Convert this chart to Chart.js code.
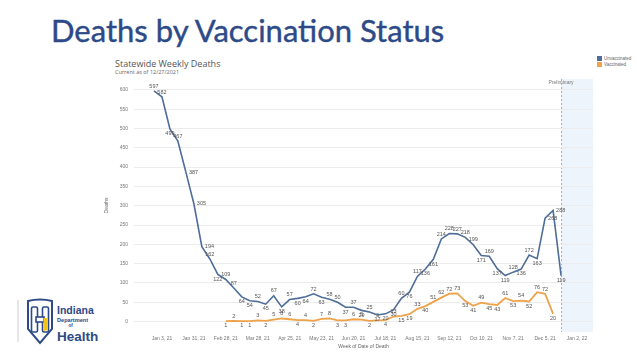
<!DOCTYPE html>
<html lang="en">
<head>
<meta charset="utf-8">
<title>Deaths by Vaccination Status</title>
<script src="https://cdn.jsdelivr.net/npm/chart.js@4.4.0/dist/chart.umd.min.js"></script>
<style>
    body { margin: 0; width: 637px; height: 354px; background: #fff; position: relative; overflow: hidden; }
    #chart { position: absolute; left: 0; top: 0; }
    .txt { position: absolute; white-space: nowrap; }
    #title { left: 51px; top: 11px; font: 31px Lato, "Open Sans", sans-serif; color: #2d4a88; -webkit-text-stroke: 0.4px #2d4a88; }
    #sub { left: 115px; top: 57px; font: 9px "Open Sans", sans-serif; color: #555; }
    #asof { left: 115px; top: 68px; font: 5.5px "Open Sans", sans-serif; color: #666; }
    .leg { position: absolute; left: 597px; font: 4.5px "Liberation Sans", sans-serif; color: #666; }
    .leg i { display: inline-block; width: 5px; height: 5px; vertical-align: -1px; margin-right: 2px; }
    #logo { position: absolute; left: 14px; top: 296px; }
</style>
</head>
<body>
<div class="txt" id="title">Deaths by Vaccination Status</div>
<div class="txt" id="sub">Statewide Weekly Deaths</div>
<div class="txt" id="asof">Current as of 12/27/2021</div>
<div class="leg" style="top:56px"><i style="background:#4e6d98"></i>Unvaccinated</div>
<div class="leg" style="top:62px"><i style="background:#eea24a"></i>Vaccinated</div>

<svg id="logo" width="90" height="52">
    <line x1="4" y1="4" x2="4" y2="46" stroke="#ccc" stroke-width="1"/>
    <path d="M14 5 Q26 2 38 5 L38 33 L26 47 L14 33 Z" fill="#fff" stroke="#2d4a86" stroke-width="2"/>
    <rect x="17.5" y="11" width="6" height="25" rx="1.5" fill="#fff" stroke="#2d4a86" stroke-width="1.6"/>
    <rect x="28.5" y="11" width="6" height="25" rx="1.5" fill="#fff" stroke="#2d4a86" stroke-width="1.6"/>
    <rect x="22" y="21" width="8" height="5" fill="#fff" stroke="#2d4a86" stroke-width="1.6"/>
    <path d="M29.5 22 L33.5 22 L33.5 34 L30 35 L29.5 30 Z" fill="#f3c21b"/>
    <text x="43" y="18" font-family="Liberation Sans, Arial" font-weight="bold" font-size="10.5" fill="#2d4a86">Indiana</text>
    <text x="43" y="26" font-family="Liberation Sans, Arial" font-weight="bold" font-size="5.6" fill="#2d4a86">Department</text>
    <text x="54.5" y="31" font-family="Liberation Sans, Arial" font-weight="bold" font-size="4.5" fill="#2d4a86">of</text>
    <text x="43" y="45" font-family="Liberation Sans, Arial" font-weight="bold" font-size="13.5" fill="#2d4a86">Health</text>
</svg>

<canvas id="chart" width="637" height="354"></canvas>

<script>
    // weekly deaths, index 0 = week of Dec 27, 2020
    var unvaccinated = [597, 582, 499, 467, 387, 305, 194, 162, 122, 109, 87, 64, 54, 52, 45, 67, 38, 57, 60, 64,
        72, 63, 58, 50, 37, 37, 29, 25, 17, 20, 30, 60, 76, 117, 136, 161, 214, 228, 227, 218,
        199, 171, 169, 137, 119, 128, 136, 172, 163, 268, 288, 119];
    var vaccinated = [null, null, null, null, null, null, null, null, null, 1, 2, 1, 1, 3, 2, 5, 8, 6, 4, 4,
        2, 7, 8, 3, 3, 6, 5, 2, 3, 4, 13, 15, 19, 33, 40, 51, 62, 72, 73, 53,
        41, 49, 45, 43, 61, 53, 54, 52, 76, 72, 20];

    var xTickWeeks = [1, 5, 9, 13, 17, 21, 25, 29, 33, 37, 41, 45, 49, 53];
    var xTickLabels = ['Jan 3, 21', 'Jan 31, 21', 'Feb 28, 21', 'Mar 28, 21', 'Apr 25, 21', 'May 23, 21', 'Jun 20, 21',
        'Jul 18, 21', 'Aug 15, 21', 'Sep 12, 21', 'Oct 10, 21', 'Nov 7, 21', 'Dec 5, 21', 'Jan 2, 22'];
    var yTicks = [0, 50, 100, 150, 200, 250, 300, 350, 400, 450, 500, 550, 600];
    var preliminaryFrom = 51;

    function toPoints(arr) {
        return arr.map(function (v, i) { return {x: i, y: v}; });
    }

    var preliminary = {
        id: 'preliminary',
        beforeDraw: function (chart) {
            var ctx = chart.ctx, a = chart.chartArea;
            var x0 = chart.scales.x.getPixelForValue(preliminaryFrom);
            ctx.save();
            ctx.fillStyle = '#eef4fb';
            ctx.fillRect(x0, a.top, a.right - x0, a.bottom - a.top);
            ctx.strokeStyle = '#9db2c8';
            ctx.setLineDash([2, 2]);
            ctx.beginPath();
            ctx.moveTo(x0 + 0.5, a.top);
            ctx.lineTo(x0 + 0.5, a.bottom);
            ctx.stroke();
            ctx.font = '5px "Liberation Sans", sans-serif';
            ctx.fillStyle = '#777';
            ctx.textAlign = 'center';
            ctx.textBaseline = 'middle';
            ctx.fillText('Preliminary', x0, a.top + 4);
            ctx.restore();
        }
    };

    var pointLabels = {
        id: 'pointLabels',
        afterDatasetsDraw: function (chart) {
            var ctx = chart.ctx;
            ctx.save();
            ctx.font = '5.5px "Liberation Sans", sans-serif';
            ctx.fillStyle = '#555';
            chart.data.datasets.forEach(function (ds, d) {
                var meta = chart.getDatasetMeta(d);
                meta.data.forEach(function (pt, i) {
                    var v = ds.data[i].y;
                    if (v == null) return;
                    var prev = i > 0 ? ds.data[i - 1].y : null;
                    var next = i < ds.data.length - 1 ? ds.data[i + 1].y : null;
                    if (prev == null) prev = next;
                    if (next == null) next = prev;
                    if (Math.abs(next - prev) > 120) {
                        ctx.textAlign = 'left';
                        ctx.textBaseline = 'middle';
                        ctx.fillText(v, pt.x + 3, pt.y);
                        return;
                    }
                    var above = v >= (prev + next) / 2;
                    ctx.textAlign = 'center';
                    ctx.textBaseline = above ? 'bottom' : 'top';
                    ctx.fillText(v, pt.x, above ? pt.y - 2 : pt.y + 2);
                });
            });
            ctx.restore();
        }
    };

    var tickFont = {family: '"Liberation Sans", sans-serif', size: 5};

    new Chart(document.getElementById('chart'), {
        type: 'line',
        data: {
            datasets: [{
                label: 'Unvaccinated',
                data: toPoints(unvaccinated),
                borderColor: '#4e6d98',
                borderWidth: 1.6,
                pointRadius: 0,
                tension: 0
            }, {
                label: 'Vaccinated',
                data: toPoints(vaccinated),
                borderColor: '#eea24a',
                borderWidth: 1.8,
                pointRadius: 0,
                tension: 0
            }]
        },
        options: {
            responsive: false,
            animation: false,
            layout: {padding: {left: 102, top: 79, right: 44, bottom: 0}},
            plugins: {legend: {display: false}, tooltip: {enabled: false}},
            scales: {
                x: {
                    type: 'linear',
                    min: -2.5,
                    max: 55,
                    afterBuildTicks: function (s) {
                        s.ticks = xTickWeeks.map(function (w) { return {value: w}; });
                    },
                    afterFit: function (s) { s.height = 22; },
                    grid: {display: false, drawTicks: false},
                    border: {display: false},
                    ticks: {
                        font: tickFont, color: '#777', padding: 4, maxRotation: 0, autoSkip: false,
                        callback: function (v, i) { return xTickLabels[i]; }
                    },
                    title: {display: true, text: 'Week of Date of Death', font: tickFont, color: '#666', padding: {top: 2, bottom: 4}}
                },
                y: {
                    min: -27,
                    max: 628,
                    afterBuildTicks: function (s) {
                        s.ticks = yTicks.map(function (v) { return {value: v}; });
                    },
                    afterFit: function (s) { s.width = 32; },
                    grid: {color: '#ececec', drawTicks: false},
                    border: {display: false},
                    ticks: {font: tickFont, color: '#777', padding: 6},
                    title: {display: true, text: 'Deaths', font: tickFont, color: '#666', padding: 2}
                }
            }
        },
        plugins: [preliminary, pointLabels]
    });
</script>
</body>
</html>
